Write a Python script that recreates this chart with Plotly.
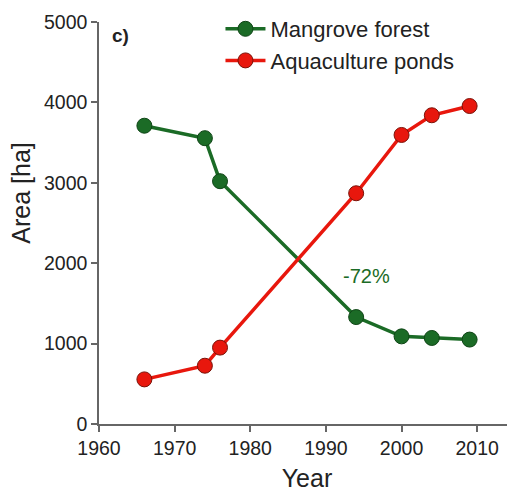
import plotly.graph_objects as go

years = [1966, 1974, 1976, 1994, 2000, 2004, 2009]
mangrove = [3710, 3555, 3020, 1330, 1090, 1070, 1050]
aquaculture = [555, 725, 950, 2870, 3595, 3840, 3955]
x_ticks = [1960, 1970, 1980, 1990, 2000, 2010]
y_ticks = [0, 1000, 2000, 3000, 4000, 5000]

GREEN = "#1b6b26"
RED = "#e8170d"
FONT = "Liberation Sans, Arial, sans-serif"

fig = go.Figure()
fig.add_trace(go.Scatter(
    x=years, y=mangrove, mode="lines+markers", name="Mangrove forest",
    line=dict(color=GREEN, width=3.5),
    marker=dict(size=15, color=GREEN, line=dict(color="#0f4516", width=1)),
    cliponaxis=False,
))
fig.add_trace(go.Scatter(
    x=years, y=aquaculture, mode="lines+markers", name="Aquaculture ponds",
    line=dict(color=RED, width=3.5),
    marker=dict(size=15, color=RED, line=dict(color="#7a1208", width=1)),
    cliponaxis=False,
))

fig.add_annotation(x=1995.3, y=1840, text="-72%", showarrow=False,
                   font=dict(family=FONT, size=20, color=GREEN))
fig.add_annotation(x=1962.8, y=4830, text="<b>c)</b>", showarrow=False,
                   font=dict(family=FONT, size=19, color="#222222"))
fig.add_annotation(xref="paper", yref="paper", x=-0.188, y=0.575,
                   xanchor="center", yanchor="middle",
                   text="Area [ha]", textangle=-90, showarrow=False,
                   font=dict(family=FONT, size=25, color="#222222"))

axis_common = dict(
    showline=True, linecolor="#666666", linewidth=1.5,
    ticks="outside", ticklen=6, tickcolor="#666666", tickwidth=1.5,
    showgrid=False, zeroline=False,
    tickfont=dict(family=FONT, size=19.5, color="#222222"),
)

fig.update_layout(
    width=507, height=484,
    margin=dict(l=91, r=0, t=14, b=68),
    paper_bgcolor="white", plot_bgcolor="white",
    font=dict(family=FONT, color="#222222"),
    showlegend=True,
    legend=dict(x=0.292, y=1.035, xanchor="left", yanchor="top",
                bgcolor="rgba(0,0,0,0)",
                font=dict(family=FONT, size=22, color="#222222"),
                itemwidth=40, tracegroupgap=0),
    xaxis=dict(range=[1960, 2015], tickvals=x_ticks,
               title=dict(text="Year", font=dict(family=FONT, size=25), standoff=15),
               **axis_common),
    yaxis=dict(range=[0, 5000], tickvals=y_ticks, **axis_common),
)

fig.write_html("out.html")
